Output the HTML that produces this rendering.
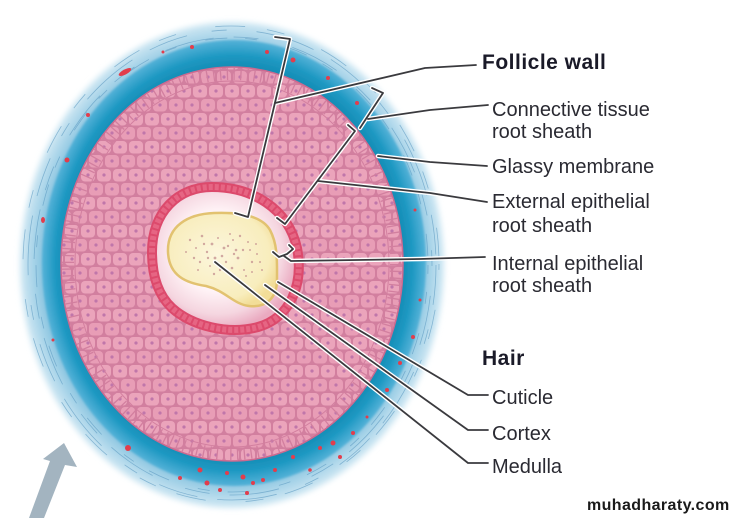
<!DOCTYPE html>
<html><head><meta charset="utf-8"><style>
html,body{margin:0;padding:0;background:#fff;}
svg{display:block;}
.lbl{font-family:"Liberation Sans",Arial,sans-serif;font-size:20px;fill:#2a2a32;}
.bold{font-weight:bold;font-size:21px;letter-spacing:0.5px;fill:#1a1a28;}
</style></head><body>
<svg width="737" height="518" viewBox="0 0 737 518" xmlns="http://www.w3.org/2000/svg">
<defs>
  <filter id="blur3" x="-10%" y="-10%" width="120%" height="120%"><feGaussianBlur stdDeviation="3"/></filter>
  <filter id="blur1"><feGaussianBlur stdDeviation="1"/></filter>
  <radialGradient id="outerG" cx="0.5" cy="0.5" r="0.5">
    <stop offset="0.85" stop-color="#6fb7d8"/>
    <stop offset="0.93" stop-color="#a2d1e7"/>
    <stop offset="1" stop-color="#d2e9f4"/>
  </radialGradient>
  <radialGradient id="tealG" cx="0.5" cy="0.5" r="0.5">
    <stop offset="0.86" stop-color="#1388b0"/>
    <stop offset="0.93" stop-color="#1d98c2"/>
    <stop offset="1" stop-color="#55b2d8"/>
  </radialGradient>
  <pattern id="cells" width="16" height="28" patternUnits="userSpaceOnUse">
    <rect width="16" height="28" fill="#d27f9f"/>
    <rect x="1" y="1" width="14" height="12.5" rx="4" fill="#eba4bb"/>
    <rect x="-7" y="15" width="14" height="12.5" rx="4" fill="#e89db6"/>
    <rect x="9" y="15" width="14" height="12.5" rx="4" fill="#e89db6"/>
    <circle cx="8" cy="7" r="1.6" fill="#c076aa"/>
    <circle cx="0" cy="21" r="1.6" fill="#c076aa"/>
    <circle cx="16" cy="21" r="1.6" fill="#c076aa"/>
  </pattern>
  <radialGradient id="paleG" cx="0.45" cy="0.45" r="0.55">
    <stop offset="0.5" stop-color="#fff4f7"/>
    <stop offset="0.8" stop-color="#f5d6e0"/>
    <stop offset="1" stop-color="#eaaac0"/>
  </radialGradient>
  <radialGradient id="hairG" cx="0.45" cy="0.45" r="0.6">
    <stop offset="0" stop-color="#fcf6dc"/>
    <stop offset="0.8" stop-color="#f8edbd"/>
    <stop offset="1" stop-color="#f2dd98"/>
  </radialGradient>
</defs>

<!-- outer connective tissue -->
<ellipse cx="232" cy="265" rx="212" ry="243" fill="url(#outerG)" filter="url(#blur3)"/>
<g fill="none" stroke="#5a98c0" stroke-width="0.8" opacity="0.6">
  <ellipse cx="232" cy="265" rx="204" ry="235" stroke-dasharray="40 25 15 30 60 20"/>
  <ellipse cx="233" cy="266" rx="199" ry="229" stroke-dasharray="25 35 50 20" stroke-dashoffset="30"/>
  <ellipse cx="231" cy="264" rx="208" ry="238" stroke-dasharray="18 40 30 22" stroke-dashoffset="12"/>
  <ellipse cx="232" cy="265" rx="196" ry="227" stroke-dasharray="12 30 22 18" stroke-dashoffset="55"/>
</g>
<!-- teal band -->
<ellipse cx="234" cy="263" rx="192" ry="223" fill="url(#tealG)" filter="url(#blur1)"/>

<!-- red spots -->
<g fill="#e23d4c">
  <ellipse cx="125" cy="72" rx="7" ry="2.5" transform="rotate(-28 125 72)"/>
  <circle cx="163" cy="52" r="1.5"/><circle cx="192" cy="47" r="2"/><circle cx="267" cy="52" r="2"/>
  <circle cx="293" cy="60" r="2.5"/><circle cx="328" cy="78" r="2"/><circle cx="357" cy="103" r="2"/>
  <circle cx="88" cy="115" r="2"/><circle cx="67" cy="160" r="2.5"/><ellipse cx="43" cy="220" rx="2" ry="3"/>
  <circle cx="53" cy="340" r="1.5"/><circle cx="415" cy="210" r="1.5"/><circle cx="420" cy="300" r="1.5"/>
  <circle cx="413" cy="337" r="2"/><circle cx="400" cy="363" r="2"/><circle cx="387" cy="390" r="2"/>
  <circle cx="367" cy="417" r="1.5"/><circle cx="353" cy="433" r="2"/><circle cx="333" cy="443" r="2.5"/>
  <circle cx="293" cy="457" r="2"/><circle cx="128" cy="448" r="3"/>
  <circle cx="200" cy="470" r="2.5"/><circle cx="207" cy="483" r="2.5"/><circle cx="227" cy="473" r="2"/>
  <circle cx="243" cy="477" r="2.5"/><circle cx="253" cy="483" r="2"/><circle cx="263" cy="480" r="2"/>
  <circle cx="220" cy="490" r="2"/><circle cx="247" cy="493" r="2"/><circle cx="180" cy="478" r="2"/>
  <circle cx="275" cy="470" r="2"/><circle cx="320" cy="448" r="2"/><circle cx="340" cy="457" r="2"/>
  <circle cx="310" cy="470" r="1.8"/>
</g>

<!-- pink external root sheath -->
<ellipse cx="232" cy="264" rx="171" ry="197" fill="url(#cells)" stroke="#cc6a90" stroke-width="1.5"/>
<ellipse cx="232" cy="264" rx="164" ry="190" fill="none" stroke="#d27f9f" stroke-width="12" stroke-dasharray="1.3 5.5"/>
<ellipse cx="232" cy="264" rx="157" ry="183" fill="none" stroke="#d27f9f" stroke-width="1"/>

<!-- inner red ring + internal root sheath -->
<path d="M152,252 C152,212 178,187 212,187 C252,187 288,208 297,248 C304,285 290,318 258,327 C228,335 192,326 172,308 C158,295 152,275 152,252 Z" fill="url(#paleG)" stroke="#dc4a6c" stroke-width="10"/>
<path d="M152,252 C152,212 178,187 212,187 C252,187 288,208 297,248 C304,285 290,318 258,327 C228,335 192,326 172,308 C158,295 152,275 152,252 Z" fill="none" stroke="#ef7c98" stroke-width="6" stroke-dasharray="4 2" opacity="0.55"/>

<!-- hair -->
<path d="M168,252 C167,226 188,214 214,213 C240,212 262,216 270,230 C278,245 277,262 277,280 C277,298 266,308 249,306 C233,304 226,291 206,286 C186,283 169,276 168,252 Z" fill="url(#hairG)" stroke="#e2c270" stroke-width="2.5"/>
<g fill="#c4908f" opacity="0.75">
  <circle cx="190" cy="240" r="1.2"/><circle cx="196" cy="248" r="1"/><circle cx="202" cy="236" r="1.3"/>
  <circle cx="207" cy="252" r="1.2"/><circle cx="212" cy="244" r="1.4"/><circle cx="218" cy="238" r="1"/>
  <circle cx="222" cy="256" r="1.3"/><circle cx="228" cy="246" r="1.2"/><circle cx="233" cy="240" r="1"/>
  <circle cx="238" cy="258" r="1.4"/><circle cx="243" cy="250" r="1.2"/><circle cx="248" cy="242" r="1"/>
  <circle cx="252" cy="262" r="1.2"/><circle cx="257" cy="254" r="1"/><circle cx="200" cy="262" r="1.2"/>
  <circle cx="210" cy="266" r="1"/><circle cx="220" cy="270" r="1.2"/><circle cx="232" cy="268" r="1.3"/>
  <circle cx="244" cy="270" r="1"/><circle cx="186" cy="252" r="1"/><circle cx="194" cy="258" r="1.2"/>
  <circle cx="215" cy="258" r="1.4"/><circle cx="226" cy="262" r="1.2"/><circle cx="236" cy="250" r="1.3"/>
  <circle cx="250" cy="250" r="1"/><circle cx="260" cy="262" r="1"/><circle cx="204" cy="244" r="1.2"/>
  <circle cx="230" cy="234" r="1"/><circle cx="240" cy="236" r="1.2"/><circle cx="256" cy="244" r="1"/>
  <circle cx="198" cy="270" r="1"/><circle cx="214" cy="274" r="1.2"/><circle cx="246" cy="276" r="1"/>
  <circle cx="262" cy="270" r="1"/><circle cx="224" cy="248" r="1.4"/><circle cx="208" cy="258" r="1.2"/>
  <circle cx="234" cy="254" r="1.2"/><circle cx="252" cy="272" r="1"/>
</g>

<!-- leader lines: white halo -->
<g fill="none" stroke="#ffffff" stroke-width="4.5" stroke-linejoin="round" stroke-linecap="round">
  <polyline points="275,37 290,39 248,217 235,213"/>
  <polyline points="275,103 425,68 476,65"/>
  <polyline points="372,88 383,93 360,128"/>
  <polyline points="368,119 430,110 488,105"/>
  <polyline points="348,125 355,131 285,224 277,218"/>
  <polyline points="318,181 430,193 487,202"/>
  <polyline points="378,156 430,162 487,166"/>
  <polyline points="273,252 279,257 287,254 293,249 289,245"/>
  <polyline points="284,256 291,261 420,259 485,257"/>
  <polyline points="278,282 468,395 488,395"/>
  <polyline points="265,285 468,430 488,430"/>
  <polyline points="215,262 468,463 488,463"/>
</g>
<g fill="none" stroke="#3a3a3e" stroke-width="1.8" stroke-linejoin="round" stroke-linecap="round">
  <polyline points="275,37 290,39 248,217 235,213"/>
  <polyline points="275,103 425,68 476,65"/>
  <polyline points="372,88 383,93 360,128"/>
  <polyline points="368,119 430,110 488,105"/>
  <polyline points="348,125 355,131 285,224 277,218"/>
  <polyline points="318,181 430,193 487,202"/>
  <polyline points="378,156 430,162 487,166"/>
  <polyline points="273,252 279,257 287,254 293,249 289,245"/>
  <polyline points="284,256 291,261 420,259 485,257"/>
  <polyline points="278,282 468,395 488,395"/>
  <polyline points="265,285 468,430 488,430"/>
  <polyline points="215,262 468,463 488,463"/>
</g>

<!-- arrow -->
<polygon points="64,443 43,459 50,461 29,518 44,518 65,465 77,467" fill="#a3b4c0"/>

<!-- labels -->
<text class="lbl bold" x="482" y="69">Follicle wall</text>
<text class="lbl" x="492" y="116">Connective tissue</text>
<text class="lbl" x="492" y="138">root sheath</text>
<text class="lbl" x="492" y="173">Glassy membrane</text>
<text class="lbl" x="492" y="208">External epithelial</text>
<text class="lbl" x="492" y="232">root sheath</text>
<text class="lbl" x="492" y="270">Internal epithelial</text>
<text class="lbl" x="492" y="292">root sheath</text>
<text class="lbl bold" x="482" y="365">Hair</text>
<text class="lbl" x="492" y="404">Cuticle</text>
<text class="lbl" x="492" y="440">Cortex</text>
<text class="lbl" x="492" y="473">Medulla</text>
<text x="587" y="510" style="font-family:'Liberation Sans',Arial,sans-serif;font-weight:bold;font-size:16px;letter-spacing:0.4px;fill:#1a1a1a;">muhadharaty.com</text>
</svg>
</body></html>
